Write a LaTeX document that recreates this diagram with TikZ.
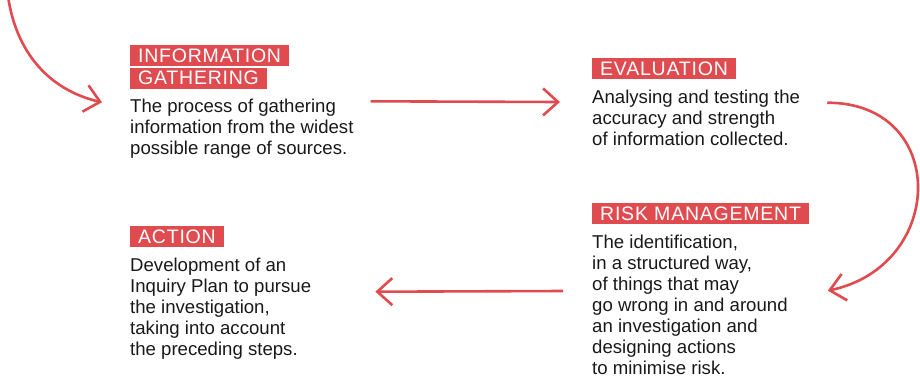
\documentclass[tikz,border=0pt]{standalone}
\usepackage{fontspec}
\setmainfont{Liberation Sans}
\newfontfamily\tagfont[LetterSpace=4]{Liberation Sans}
\usetikzlibrary{positioning,arrows.meta}
\definecolor{inqred}{RGB}{224,75,80}
\definecolor{inqtext}{RGB}{25,25,25}
\tikzset{
  tag/.style={fill=inqred, text=white, anchor=north west, inner xsep=8pt, inner ysep=0pt,
    text height=17pt, text depth=4pt, font=\tagfont\fontsize{19.5}{21}\selectfont},
  body/.style={anchor=north west, inner sep=0pt, align=left, text=inqtext,
    font=\fontsize{18.6}{21}\selectfont, execute at begin node=\strut},
  flow/.style={draw=inqred, line width=2.6pt, -{Straight Barb[length=15pt,width=27pt]}},
}

\begin{document}
\begin{tikzpicture}[x=1pt,y=-1pt]
  \useasboundingbox (0,0) rectangle (920,378);

  % Step labels
  \node[tag] (infotag) at (130,45) {INFORMATION};
  \node[tag, below=1pt of infotag.south west, anchor=north west] (gathertag) {GATHERING};
  \node[tag] (evaltag) at (592,58) {EVALUATION};
  \node[tag] (risktag) at (592,203) {RISK MANAGEMENT};
  \node[tag] (actiontag) at (130,226) {ACTION};

  % Descriptions
  \node[body, below=10.5pt of gathertag.south west, anchor=north west] (gatherbody)
    {The process of gathering\\information from the widest\\possible range of sources.};
  \node[body, below=10.3pt of evaltag.south west, anchor=north west] (evalbody)
    {Analysing and testing the\\accuracy and strength\\of information collected.};
  \node[body, below=10.3pt of risktag.south west, anchor=north west] (riskbody)
    {The identification,\\in a structured way,\\of things that may\\go wrong in and around\\an investigation and\\designing actions\\to minimise risk.};
  \node[body, below=10.3pt of actiontag.south west, anchor=north west] (actionbody)
    {Development of an\\Inquiry Plan to pursue\\the investigation,\\taking into account\\the preceding steps.};

  % Arrows
  \coordinate (entry) at (8,-4);
  \draw[flow] (entry) to[out=-82,in=167] ([shift={(-28,3)}]gatherbody.north west);
  \draw[flow] ([shift={(17,2)}]gatherbody.north east) -- ([shift={(-32,12.3)}]evalbody.north west);
  \draw[flow] ([shift={(27,13)}]evalbody.north east) to[out=0,in=12,looseness=1.65]
    ([shift={(40,56)}]riskbody.north east);
  \draw[flow] ([shift={(-29,56.3)}]riskbody.north west) -- ([shift={(64,34)}]actionbody.north east);
\end{tikzpicture}
\end{document}
